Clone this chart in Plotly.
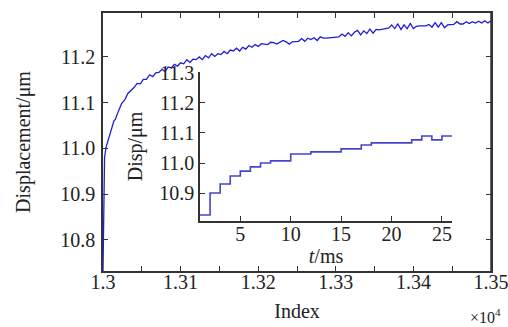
import plotly.graph_objects as go

# Main curve (index vs displacement, µm)
main_index = [13000, 13001, 13002, 13004, 13006, 13008, 13010, 13012, 13014, 13016,
              13018, 13020, 13024, 13028, 13032, 13036,
              13040, 13044, 13048, 13052, 13056, 13060, 13064, 13068, 13072, 13076,
              13080, 13084, 13088, 13092, 13096, 13100, 13104, 13108, 13112, 13116,
              13120, 13124, 13128, 13132, 13136, 13140, 13144, 13148, 13152, 13156,
              13160, 13164, 13168, 13172, 13176, 13180, 13184, 13188, 13192, 13196,
              13200, 13204, 13208, 13212, 13216, 13220, 13224, 13228, 13232, 13236,
              13240, 13244, 13248, 13252, 13256, 13260, 13264, 13268, 13272, 13276,
              13280, 13284, 13288, 13292, 13296, 13300, 13304, 13308, 13312, 13316,
              13320, 13324, 13328, 13332, 13336, 13340, 13344, 13348, 13352, 13356,
              13360, 13364, 13368, 13372, 13376, 13380, 13384, 13388, 13392, 13396,
              13400, 13404, 13408, 13412, 13416, 13420, 13424, 13428, 13432, 13436,
              13440, 13444, 13448, 13452, 13456, 13460, 13464, 13468, 13472, 13476,
              13480, 13484, 13488, 13492, 13496, 13500]
main_disp = [10.732, 10.925, 10.980, 11.003, 11.014, 11.026, 11.040, 11.048, 11.060, 11.064,
             11.076, 11.082, 11.098, 11.106, 11.120, 11.126,
             11.133, 11.142, 11.141, 11.151, 11.151, 11.161, 11.157, 11.165, 11.166, 11.173,
             11.168, 11.178, 11.176, 11.184, 11.180, 11.187, 11.185, 11.194, 11.188, 11.195,
             11.194, 11.200, 11.194, 11.203, 11.198, 11.207, 11.201, 11.207, 11.205, 11.212,
             11.207, 11.215, 11.213, 11.219, 11.213, 11.221, 11.217, 11.225, 11.221, 11.227,
             11.223, 11.229, 11.228, 11.227, 11.232, 11.231, 11.228, 11.232, 11.236, 11.233,
             11.228, 11.233, 11.234, 11.234, 11.240, 11.234, 11.241, 11.238, 11.242, 11.236,
             11.244, 11.241, 11.241, 11.242, 11.242, 11.243, 11.244, 11.250, 11.245, 11.253,
             11.246, 11.254, 11.258, 11.248, 11.257, 11.251, 11.261, 11.252, 11.260, 11.259,
             11.261, 11.262, 11.263, 11.270, 11.262, 11.272, 11.260, 11.270, 11.262, 11.273,
             11.262, 11.267, 11.268, 11.268, 11.268, 11.271, 11.265, 11.275, 11.265, 11.275,
             11.264, 11.270, 11.271, 11.271, 11.277, 11.272, 11.272, 11.277, 11.273, 11.277,
             11.274, 11.278, 11.274, 11.279, 11.274, 11.279]

# Inset step curve (t/ms vs displacement)
inset_t = [1, 2, 3, 4, 5, 6, 7, 8, 9, 10, 11, 12, 13, 14, 15, 16, 17, 18, 19, 20,
           21, 22, 23, 24, 25, 26]
inset_disp = [10.827, 10.900, 10.930, 10.957, 10.973, 10.987, 11.000, 11.007, 11.007, 11.030,
              11.030, 11.037, 11.037, 11.037, 11.047, 11.047, 11.060, 11.067, 11.067, 11.067,
              11.067, 11.077, 11.090, 11.077, 11.090, 11.090]

main_xtickvals = [13000, 13100, 13200, 13300, 13400, 13500]
main_xticktext = ["1.3", "1.31", "1.32", "1.33", "1.34", "1.35"]
main_xminor = [13050, 13150, 13250, 13350, 13450]
main_ytickvals = [10.8, 10.9, 11.0, 11.1, 11.2]
main_yticktext = ["10.8", "10.9", "11.0", "11.1", "11.2"]
inset_xtickvals = [5, 10, 15, 20, 25]
inset_ytickvals = [10.9, 11.0, 11.1, 11.2, 11.3]
inset_yticktext = ["10.9", "11.0", "11.1", "11.2", "11.3"]

FONT = "Liberation Serif, Times New Roman, DejaVu Serif, serif"
AX = "#333333"
TXT = "#222222"
FS = 20
Y_RANGE = [10.732, 11.296]

fig = go.Figure()
fig.add_trace(go.Scatter(x=main_index, y=main_disp, mode="lines",
                         line=dict(color="#1c1cd6", width=1.3),
                         xaxis="x", yaxis="y", showlegend=False))
# invisible copy on the right-hand axis so that axis (frame + ticks) is drawn
fig.add_trace(go.Scatter(x=main_index, y=main_disp, mode="lines", opacity=0,
                         line=dict(width=0), hoverinfo="skip",
                         xaxis="x", yaxis="y3", showlegend=False))
fig.add_trace(go.Scatter(x=inset_t, y=inset_disp, mode="lines",
                         line=dict(color="#4444cc", width=1.6, shape="hv"),
                         xaxis="x2", yaxis="y2", showlegend=False))

common = dict(showline=True, linecolor=AX, linewidth=1.5, ticks="inside", ticklen=5,
              tickcolor=AX, showgrid=False, zeroline=False, automargin=False,
              ticklabeloverflow="allow",
              tickfont=dict(family=FONT, size=FS, color=TXT))

fig.update_layout(
    width=508, height=327,
    margin=dict(l=103, r=17, t=13, b=56),
    paper_bgcolor="white", plot_bgcolor="white",
    font=dict(family=FONT, size=FS, color=TXT),
    xaxis=dict(range=[13000, 13500], tickvals=main_xtickvals, ticktext=main_xticktext,
               mirror="allticks",
               minor=dict(tickvals=main_xminor, ticks="inside", ticklen=5, tickcolor=AX,
                          showgrid=False),
               ticklabelstandoff=-8,
               title=dict(text="Index", standoff=12, font=dict(family=FONT, size=FS)),
               **common),
    yaxis=dict(range=Y_RANGE, tickvals=main_ytickvals, ticktext=main_yticktext,
               mirror="ticks", ticklabelstandoff=2,
               title=dict(text="Displacement/μm", standoff=24, font=dict(family=FONT, size=FS)),
               **common),
    yaxis3=dict(range=Y_RANGE, tickvals=main_ytickvals, overlaying="y", side="right",
                anchor="x", showticklabels=False, **common),
    xaxis2=dict(domain=[0.25, 0.8995], anchor="y2", range=[1, 26],
                tickvals=inset_xtickvals, ticklabelstandoff=-6,
                title=dict(text="<i>t</i>/ms", standoff=0, font=dict(family=FONT, size=FS)),
                **common),
    yaxis2=dict(domain=[0.1938, 0.7713], anchor="x2", range=[10.807, 11.303],
                tickvals=inset_ytickvals, ticktext=inset_yticktext,
                title=dict(text="Disp/μm", standoff=11, font=dict(family=FONT, size=FS)),
                **common),
    shapes=[dict(type="line", xref="paper", yref="paper", x0=1, x1=1, y0=0, y1=1,
                 line=dict(color=AX, width=1.5), layer="above")],
    annotations=[dict(text="×10<sup>4</sup>", xref="paper", yref="paper",
                      x=0.985, y=-0.175, xanchor="center", yanchor="middle",
                      showarrow=False, font=dict(family=FONT, size=16, color=TXT))],
)

# remove the page's default body margin so the figure fills the window exactly
fig.write_html(
    "out.html",
    config={"displayModeBar": False},
    post_script="document.body.style.margin='0';"
                "document.documentElement.style.overflow='hidden';",
)
